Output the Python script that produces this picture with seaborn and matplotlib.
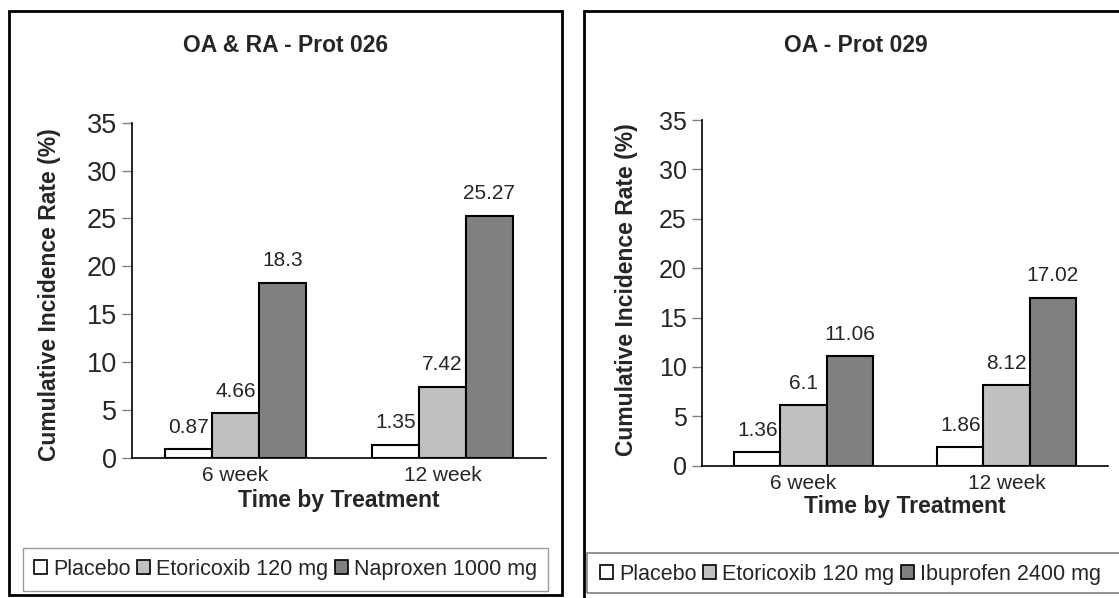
import matplotlib
matplotlib.use("Agg")
import matplotlib.pyplot as plt
from matplotlib.patches import Patch, Rectangle
import seaborn as sns
import pandas as pd

# ---- data ----
times = ["6 week", "12 week"]
treat_left = ["Placebo", "Etoricoxib 120 mg", "Naproxen 1000 mg"]
treat_right = ["Placebo", "Etoricoxib 120 mg", "Ibuprofen 2400 mg"]
placebo_026 = [0.87, 1.35]
etoricoxib_026 = [4.66, 7.42]
naproxen_026 = [18.3, 25.27]
placebo_029 = [1.36, 1.86]
etoricoxib_029 = [6.1, 8.12]
ibuprofen_029 = [11.06, 17.02]
titles = ["OA & RA - Prot 026", "OA - Prot 029"]
yticks = [0, 5, 10, 15, 20, 25, 30, 35]
colors = ["#FFFFFF", "#C0C0C0", "#808080"]

sns.set_style("white")
plt.rcParams["font.family"] = ["Liberation Sans", "DejaVu Sans"]

W, H = 1119, 598
fig = plt.figure(figsize=(W / 100, H / 100), dpi=100)


def fx(px):
    return px / W


def fy(py):
    return 1 - py / H


def make_df(treats, series):
    rows = []
    for t, vals in zip(treats, series):
        for tm, v in zip(times, vals):
            rows.append({"Time": tm, "Treatment": t, "Value": v})
    return pd.DataFrame(rows)


panels = [
    dict(treats=treat_left, series=[placebo_026, etoricoxib_026, naproxen_026],
         ax=(132, 122.7, 546, 457.7), title=(286, 45), tick_fs=19.5,
         xlab_y=501, ylab_x=50, ylab_y=295,
         leg=(23, 548), legbox=None, box=(8.6, 11, 562, 595)),
    dict(treats=treat_right, series=[placebo_029, etoricoxib_029, ibuprofen_029],
         ax=(702, 120, 1108, 465.7), title=(856, 45), tick_fs=18,
         xlab_y=507, ylab_x=626, ylab_y=290,
         leg=(589, 553), legbox=(587, 553, 1135, 593), box=(584, 11, 1130, 610)),
]

for i, p in enumerate(panels):
    # outer box
    x0, y0, x1, y1 = p["box"]
    fig.patches.append(Rectangle((fx(x0), fy(y1)), fx(x1 - x0), (y1 - y0) / H,
                                 transform=fig.transFigure, fill=False,
                                 edgecolor="black", linewidth=2, zorder=0))
    l, t, r, b = p["ax"]
    ax = fig.add_axes([fx(l), fy(b), fx(r - l), (b - t) / H])
    df = make_df(p["treats"], p["series"])
    sns.barplot(data=df, x="Time", y="Value", hue="Treatment",
                hue_order=p["treats"], order=times, palette=colors,
                width=0.68, edgecolor="black", linewidth=1.5,
                legend=False, ax=ax, errorbar=None, saturation=1)
    for c in ax.containers:
        ax.bar_label(c, fmt="{:g}", padding=9, fontsize=15)
    ax.set_ylim(0, 35)
    ax.set_xlim(-0.5, 1.5)
    ax.set_yticks(yticks)
    ax.tick_params(axis="y", labelsize=p["tick_fs"], length=7, width=1,
                   color="#808080", direction="out", left=True, pad=4)
    ax.tick_params(axis="x", length=0, labelsize=15, pad=6)
    for s in ["top", "right"]:
        ax.spines[s].set_visible(False)
    ax.spines["left"].set_color("black")
    ax.spines["bottom"].set_color("black")
    ax.spines["left"].set_linewidth(1.2)
    ax.spines["bottom"].set_linewidth(1.2)
    ax.set_xlabel("")
    ax.set_ylabel("")
    fig.text(fx((l + r) / 2), fy(p["xlab_y"]), "Time by Treatment",
             ha="center", va="center", fontsize=16.5, fontweight="bold")
    fig.text(fx(p["ylab_x"]), fy(p["ylab_y"]), "Cumulative Incidence Rate (%)",
             ha="center", va="center", rotation=90, fontsize=16.5,
             fontweight="bold")
    fig.text(fx(p["title"][0]), fy(p["title"][1]), titles[i],
             ha="center", va="center", fontsize=16.5, fontweight="bold")
    handles = [Patch(facecolor=c, edgecolor="black", linewidth=1.2)
               for c in colors]
    framed = p["legbox"] is None
    fig.legend(handles, p["treats"], loc="upper left",
               bbox_to_anchor=(fx(p["leg"][0]), fy(p["leg"][1])),
               ncol=3, fontsize=15.5, frameon=framed, fancybox=False,
               edgecolor="#808080", handlelength=0.6, handleheight=0.6,
               handletextpad=0.3, columnspacing=0.3, borderpad=0.5,
               borderaxespad=0)
    if not framed:
        a0, b0, a1, b1 = p["legbox"]
        fig.patches.append(Rectangle((fx(a0), fy(b1)), fx(a1 - a0), (b1 - b0) / H,
                                     transform=fig.transFigure, fill=False,
                                     edgecolor="#808080", linewidth=1.2))

fig.savefig("out.png", dpi=100)
